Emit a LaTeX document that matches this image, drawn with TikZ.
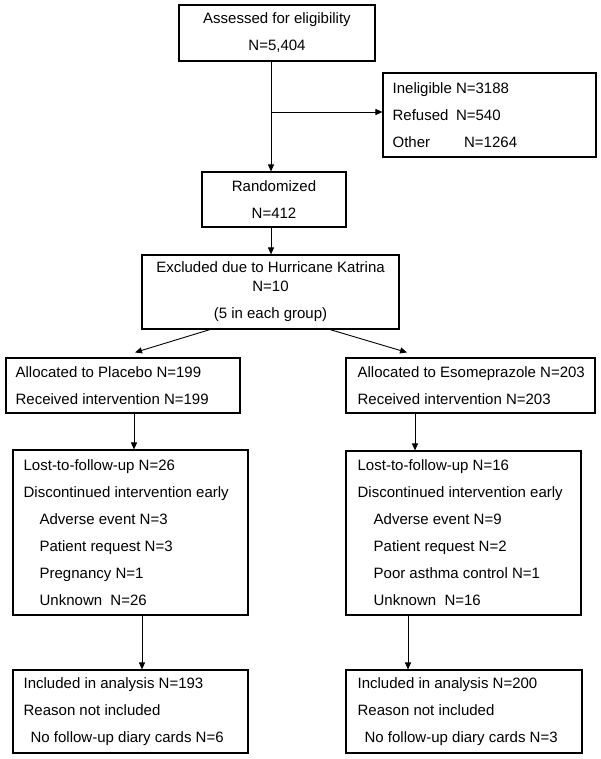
\documentclass[tikz,border=0pt]{standalone}
\usepackage{fontspec}
\setmainfont{Liberation Sans}
\usetikzlibrary{arrows.meta}
\begin{document}
\begin{tikzpicture}[x=1pt,y=-1pt,
  box/.style={draw=black, line width=1.1pt, inner sep=0pt},
  txt/.style={inner sep=0pt, align=left, font=\fontsize{15}{27}\selectfont},
  ctxt/.style={inner sep=0pt, align=center, font=\fontsize{15}{27}\selectfont},
  arr/.style={line width=0.9pt, -{Triangle[length=7pt,width=6pt]}}
]
\useasboundingbox (0,0) rectangle (601,759);
\fill[white] (0,0) rectangle (601,759);

% boxes
\node[box, minimum width=196pt, minimum height=56pt] (A) at (277,33) {};
\node[box, minimum width=213pt, minimum height=84pt] (I) at (489.5,115) {};
\node[box, minimum width=144pt, minimum height=55pt] (R) at (274,199.5) {};
\node[box, minimum width=257pt, minimum height=74pt] (E) at (270.5,292) {};
\node[box, minimum width=234pt, minimum height=55pt] (AL) at (123,385.5) {};
\node[box, minimum width=249pt, minimum height=55pt] (AR) at (470.5,385.5) {};
\node[box, minimum width=235pt, minimum height=165pt] (LL) at (130.5,532.5) {};
\node[box, minimum width=235pt, minimum height=164pt] (LR) at (463.5,533) {};
\node[box, minimum width=235pt, minimum height=83pt] (IL) at (130.5,711.5) {};
\node[box, minimum width=236pt, minimum height=83pt] (IR) at (464,711.5) {};

% texts
\node[ctxt] (tA) at (A.center) {Assessed for eligibility\\N=5,404};
\node[txt, anchor=west] (tI) at ([xshift=10pt]I.west) {Ineligible N=3188\\\makebox[63.4pt][l]{Refused}N=540\\\makebox[71.5pt][l]{Other}N=1264};
\node[ctxt] (tR) at (R.center) {Randomized\\N=412};
\node[ctxt] (tE) at (E.center) {Excluded due to Hurricane Katrina\\[-8pt]N=10\\(5 in each group)};
\node[txt, anchor=west] (tAL) at ([xshift=10pt]AL.west) {Allocated to Placebo N=199\\Received intervention N=199};
\node[txt, anchor=west] (tAR) at ([xshift=12pt]AR.west) {Allocated to Esomeprazole N=203\\Received intervention N=203};
\node[txt, anchor=west] (tLL) at ([xshift=11pt]LL.west) {Lost-to-follow-up N=26\\Discontinued intervention early\\\hspace*{16pt}Adverse event N=3\\\hspace*{16pt}Patient request N=3\\\hspace*{16pt}Pregnancy N=1\\\hspace*{16pt}Unknown\ \ N=26};
\node[txt, anchor=west] (tLR) at ([xshift=12pt]LR.west) {Lost-to-follow-up N=16\\Discontinued intervention early\\\hspace*{16pt}Adverse event N=9\\\hspace*{16pt}Patient request N=2\\\hspace*{16pt}Poor asthma control N=1\\\hspace*{16pt}Unknown\ \ N=16};
\node[txt, anchor=west] (tIL) at ([xshift=11pt]IL.west) {Included in analysis N=193\\Reason not included\\\hspace*{7pt}No follow-up diary cards N=6};
\node[txt, anchor=west] (tIR) at ([xshift=12pt]IR.west) {Included in analysis N=200\\Reason not included\\\hspace*{7pt}No follow-up diary cards N=3};

% connectors
\coordinate (cx) at (271,0);
\coordinate (br) at (271,112);
\draw[line width=0.9pt] (A.south -| cx) -- (br);
\draw[arr] (br) -- (R.north -| cx);
\draw[arr] (br) -- (br -| I.west);
\draw[arr] (R.south -| cx) -- (E.north -| cx);
\draw[arr] ([xshift=-60.5pt]E.south) -- ([xshift=12pt,yshift=5pt]AL.north);
\draw[arr] ([xshift=59.5pt]E.south) -- ([xshift=-63.5pt,yshift=5pt]AR.north);
\draw[arr] ([xshift=11pt]AL.south) -- ([xshift=11pt]AL.south |- LL.north);
\draw[arr] ([xshift=-55.5pt]AR.south) -- ([xshift=-55.5pt]AR.south |- LR.north);
\draw[arr] ([xshift=11.5pt]LL.south) -- ([xshift=11.5pt]LL.south |- IL.north);
\draw[arr] ([xshift=-55.5pt]LR.south) -- ([xshift=-55.5pt]LR.south |- IR.north);
\end{tikzpicture}
\end{document}
